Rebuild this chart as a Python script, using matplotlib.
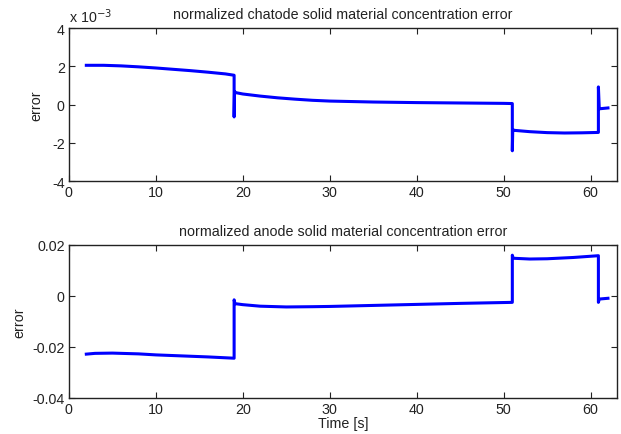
import matplotlib
matplotlib.use("Agg")
import matplotlib.pyplot as plt

plt.rcParams['font.family'] = ['Liberation Sans', 'DejaVu Sans']

# cathode error, stored in units of 1e-3
t_cat = [2, 4, 6, 8, 10, 12, 14, 16, 18, 19.0, 19.0, 19.05, 19.2, 20, 22, 24, 26, 28, 30,
         35, 40, 45, 50, 51.0, 51.0, 51.05, 51.2, 53, 55, 57, 59, 60.9, 60.9, 61.0, 61.1, 62]
cat_err = [2.05, 2.05, 2.02, 1.97, 1.91, 1.84, 1.77, 1.69, 1.60, 1.53, -0.65, 0.68, 0.62, 0.55,
           0.44, 0.35, 0.28, 0.22, 0.18, 0.13, 0.10, 0.08, 0.06, 0.05, -2.42, -1.30, -1.35,
           -1.42, -1.47, -1.49, -1.48, -1.46, 0.92, -0.22, -0.22, -0.18]

t_an = [2, 3, 5, 8, 10, 13, 16, 19.0, 19.0, 19.1, 20, 22, 25, 28, 30, 35, 40, 45, 51.0, 51.0,
        51.1, 53, 55, 58, 60.9, 60.9, 61.0, 62]
an_err = [-0.0228, -0.0225, -0.0224, -0.0227, -0.0231, -0.0235, -0.0239, -0.0244, -0.0015,
          -0.0030, -0.0034, -0.0040, -0.0043, -0.0042, -0.0041, -0.0037, -0.0033, -0.0029,
          -0.0025, 0.0160, 0.0148, 0.0145, 0.0146, 0.0151, 0.0158, -0.0025, -0.0012, -0.0009]

xticks = [0, 10, 20, 30, 40, 50, 60]
cat_yticks = [-4, -2, 0, 2, 4]
cat_ylabels = ['-4', '-2', '0', '2', '4']
an_yticks = [-0.04, -0.02, 0, 0.02]
an_ylabels = ['-0.04', '-0.02', '0', '0.02']

fig = plt.figure(figsize=(6.21, 4.35), dpi=100)
ax1 = fig.add_axes([0.111, 0.5816, 0.882, 0.3517])
ax2 = fig.add_axes([0.111, 0.0828, 0.882, 0.3517])


def style(ax):
    ax.set_xlim(0, 63)
    ax.set_xticks(xticks)
    ax.tick_params(direction='in', top=True, right=True, length=4, width=0.8,
                   labelsize=10.3, colors='#222222', pad=3)
    for s in ax.spines.values():
        s.set_linewidth(1.0)
        s.set_color('#222222')


ax1.plot(t_cat, cat_err, color='#0000ff', lw=2.2)
style(ax1)
ax1.set_ylim(-4, 4)
ax1.set_yticks(cat_yticks)
ax1.set_yticklabels(cat_ylabels)
ax1.set_ylabel('error', fontsize=10.3, labelpad=6, color='#222222')
ax1.set_title('normalized chatode solid material concentration error', fontsize=10.3, pad=7,
              color='#222222')
ax1.text(0.0, 1.02, r'x 10$^{-3}$', transform=ax1.transAxes, fontsize=10.3,
         ha='left', va='bottom', color='#222222')

ax2.plot(t_an, an_err, color='#0000ff', lw=2.2)
style(ax2)
ax2.set_ylim(-0.04, 0.02)
ax2.set_yticks(an_yticks)
ax2.set_yticklabels(an_ylabels)
ax2.set_ylabel('error', fontsize=10.3, labelpad=4, color='#222222')
ax2.set_xlabel('Time [s]', fontsize=10.3, labelpad=0, color='#222222')
ax2.set_title('normalized anode solid material concentration error', fontsize=10.3, pad=7,
              color='#222222')

fig.savefig('out.png', dpi=100)
